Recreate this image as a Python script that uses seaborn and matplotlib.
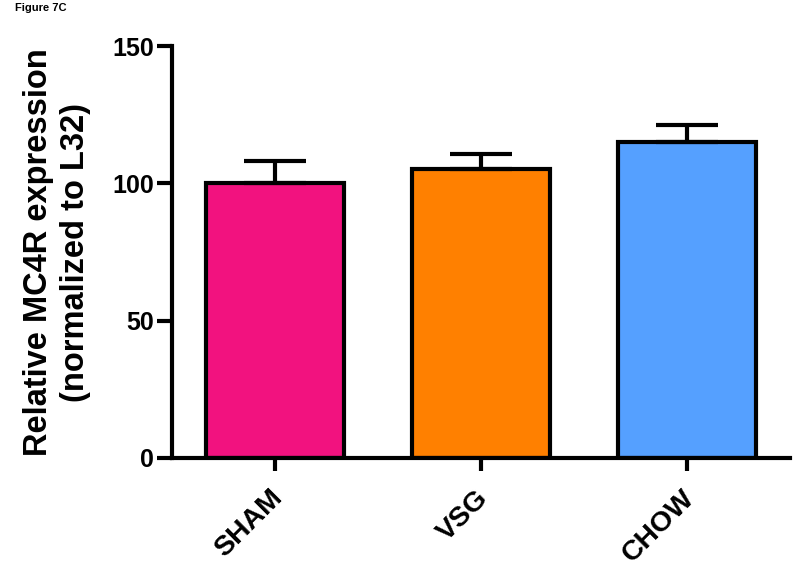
import numpy as np
import pandas as pd
import matplotlib
matplotlib.use("Agg")
import matplotlib.pyplot as plt
import matplotlib.transforms as mtransforms
import seaborn as sns

# Data
groups = ["SHAM", "VSG", "CHOW"]
means = [100.0, 105.2, 114.9]
sem = [8.2, 5.6, 6.2]
bar_colors = ["#F2127F", "#FF8000", "#55A0FF"]

sns.set_style("white")
plt.rcParams['font.family'] = ['Liberation Sans', 'DejaVu Sans']
plt.rcParams['font.weight'] = 'bold'
plt.rcParams['text.color'] = 'black'
plt.rcParams['axes.labelcolor'] = 'black'
plt.rcParams['xtick.color'] = 'black'
plt.rcParams['ytick.color'] = 'black'

df = pd.DataFrame({"group": groups, "value": means})

fig = plt.figure(figsize=(8, 5.76), dpi=100)
ax = fig.add_axes([0.215, 0.205, 0.7725, 0.715])

sns.barplot(data=df, x="group", y="value", hue="group", palette=bar_colors,
            width=0.67, edgecolor="black", linewidth=3, legend=False, ax=ax,
            saturation=1)

# upper error bars only
ax.errorbar(np.arange(len(groups)), means, yerr=[np.zeros(len(sem)), sem],
            fmt="none", ecolor="black", elinewidth=3, capsize=22, capthick=3,
            zorder=1)

ax.set_xlim(-0.5, 2.5)
ax.set_ylim(0, 150)
ax.set_yticks([0, 50, 100, 150])
ax.set_xlabel("")
ax.set_ylabel("Relative MC4R expression\n(normalized to L32)", fontsize=23.5,
              fontweight="bold", labelpad=15, linespacing=1.25)

sns.despine(ax=ax)
for s in ["left", "bottom"]:
    ax.spines[s].set_linewidth(3)
    ax.spines[s].set_color("black")

ax.tick_params(axis="y", direction="out", length=11, width=3, labelsize=18,
               left=True, pad=2)
ax.tick_params(axis="x", direction="out", length=9.5, width=3, labelsize=20.5,
               bottom=True, pad=10)
shift = mtransforms.ScaledTranslation(-6 / 100, 0, fig.dpi_scale_trans)
for lab in ax.get_xticklabels():
    lab.set_rotation(45)
    lab.set_ha("right")
    lab.set_rotation_mode("anchor")
    lab.set_fontweight("bold")
    lab.set_transform(lab.get_transform() + shift)
for lab in ax.get_yticklabels():
    lab.set_fontweight("bold")

fig.text(0.019, 0.986, "Figure 7C", fontsize=8, fontweight="bold", va="center")

fig.savefig("out.png", dpi=100)
